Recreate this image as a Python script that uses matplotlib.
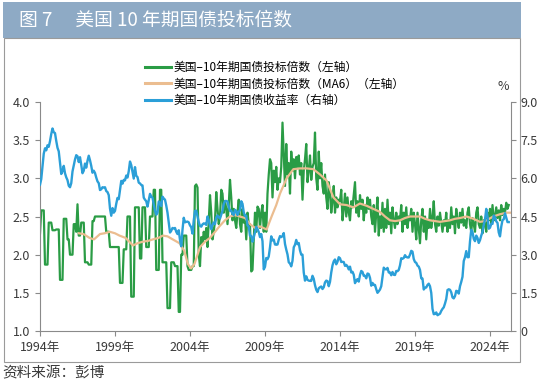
# 美国10年期国债投标倍数 vs 收益率

import numpy as np
import matplotlib
matplotlib.use("Agg")
import matplotlib.pyplot as plt
from matplotlib.patches import Rectangle

plt.rcParams['font.family'] = ['Noto Sans CJK SC', 'DejaVu Sans']

# Data (monthly, starting 1994-01)
bid_cover = [
    2.28, 2.58, 2.58, 2.58, 1.87, 1.87, 1.87, 2.42, 2.42, 2.42, 2.32, 2.32,  # 1994
    2.32, 2.33, 2.33, 2.33, 1.67, 1.67, 1.67, 2.47, 2.47, 2.47, 2.20, 2.20,  # 1995
    2.00, 2.00, 2.00, 2.40, 2.40, 2.30, 2.66, 2.25, 2.25, 2.42, 2.42, 2.42,  # 1996
    1.90, 1.90, 1.90, 1.87, 1.87, 1.87, 2.44, 2.44, 2.50, 2.50, 2.50, 2.50,  # 1997
    2.50, 2.50, 2.50, 2.50, 2.50, 2.30, 2.30, 2.30, 2.10, 2.10, 2.10, 2.10,  # 1998
    2.10, 2.10, 2.10, 2.10, 1.63, 1.63, 1.63, 2.07, 2.07, 2.07, 2.50, 2.50,  # 1999
    2.50, 1.45, 1.45, 1.45, 2.62, 2.62, 2.62, 2.62, 1.95, 1.95, 2.62, 2.62,  # 2000
    2.62, 2.10, 2.10, 2.10, 2.50, 2.50, 2.50, 2.85, 2.85, 1.80, 1.80, 1.80,  # 2001
    2.85, 2.85, 1.90, 1.90, 1.90, 1.90, 1.30, 1.30, 1.30, 1.90, 1.90, 1.90,  # 2002
    1.85, 1.85, 1.85, 1.25, 1.25, 2.00, 2.00, 2.25, 2.25, 2.25, 1.85, 1.80,  # 2003
    1.80, 1.80, 1.85, 1.85, 2.90, 2.92, 2.88, 2.00, 1.85, 2.23, 2.15, 2.30,  # 2004
    2.20, 2.35, 2.10, 2.45, 2.78, 2.55, 2.20, 2.30, 2.45, 2.82, 2.60, 2.40,  # 2005
    2.50, 2.85, 2.80, 2.55, 2.70, 2.60, 2.40, 2.65, 2.98, 2.75, 2.45, 2.60,  # 2006
    2.45, 2.35, 2.55, 2.72, 2.40, 2.30, 2.60, 2.42, 2.50, 2.20, 2.55, 2.40,  # 2007
    2.40, 1.78, 1.80, 2.20, 2.55, 2.30, 2.63, 2.60, 2.35, 2.55, 2.65, 2.30,  # 2008
    2.55, 2.30, 2.80, 3.05, 3.25, 3.20, 2.75, 3.10, 2.95, 3.15, 2.85, 3.00,  # 2009
    2.95, 3.15, 3.73, 3.30, 2.90, 3.45, 3.05, 3.20, 2.80, 3.35, 3.10, 3.25,  # 2010
    3.00, 3.28, 3.15, 3.30, 3.05, 3.20, 2.72, 3.10, 3.25, 3.45, 2.95, 3.10,  # 2011
    3.30, 2.98, 3.15, 3.20, 3.60, 3.00, 2.85, 3.35, 3.00, 3.20, 2.90, 2.80,  # 2012
    3.05, 2.75, 2.60, 2.95, 2.80, 2.55, 2.70, 2.90, 2.55, 2.75, 2.62, 2.72,  # 2013
    2.70, 2.85, 2.45, 2.60, 2.80, 2.50, 2.75, 2.55, 2.45, 2.70, 2.62, 2.78,  # 2014
    2.95, 2.55, 2.70, 2.50, 2.78, 2.60, 2.72, 2.45, 2.65, 2.55, 2.75, 2.60,  # 2015
    2.72, 2.50, 2.40, 2.65, 2.30, 2.55, 2.75, 2.25, 2.50, 2.35, 2.68, 2.30,  # 2016
    2.60, 2.35, 2.72, 2.40, 2.55, 2.28, 2.62, 2.45, 2.35, 2.55, 2.40, 2.50,  # 2017
    2.45, 2.65, 2.30, 2.55, 2.40, 2.62, 2.35, 2.50, 2.45, 2.60, 2.30, 2.55,  # 2018
    2.40, 2.20, 2.55, 2.35, 2.15, 2.45, 2.60, 2.30, 2.50, 2.20, 2.45, 2.35,  # 2019
    2.60, 2.35, 2.48, 2.70, 2.40, 2.30, 2.50, 2.38, 2.55, 2.42, 2.30, 2.45,  # 2020
    2.38, 2.55, 2.30, 2.45, 2.35, 2.62, 2.40, 2.50, 2.28, 2.60, 2.45, 2.35,  # 2021
    2.55, 2.42, 2.60, 2.38, 2.45, 2.35, 2.55, 2.62, 2.40, 2.30, 2.48, 2.40,  # 2022
    2.30, 2.55, 2.62, 2.40, 2.35, 2.50, 2.28, 2.45, 2.40, 2.30, 2.55, 2.45,  # 2023
    2.60, 2.40, 2.65, 2.45, 2.50, 2.62, 2.48, 2.58, 2.45, 2.65, 2.52, 2.60,  # 2024
    2.55, 2.68, 2.60, 2.65,                                                  # 2025
]

yield_10y = [
    5.75, 5.97, 6.48, 6.97, 7.18, 7.10, 7.30, 7.24, 7.46, 7.74, 7.96, 7.81,  # 1994
    7.78, 7.47, 7.20, 7.06, 6.63, 6.17, 6.28, 6.49, 6.20, 6.04, 5.93, 5.71,  # 1995
    5.65, 5.81, 6.27, 6.51, 6.74, 6.91, 6.87, 6.64, 6.83, 6.53, 6.20, 6.30,  # 1996
    6.58, 6.42, 6.69, 6.89, 6.71, 6.49, 6.22, 6.30, 6.21, 6.03, 5.88, 5.81,  # 1997
    5.54, 5.57, 5.65, 5.64, 5.65, 5.50, 5.46, 5.34, 4.81, 4.53, 4.83, 4.65,  # 1998
    4.72, 5.00, 5.23, 5.18, 5.54, 5.90, 5.79, 5.94, 5.92, 6.11, 6.03, 6.28,  # 1999
    6.66, 6.52, 6.26, 5.99, 6.44, 6.10, 6.05, 5.83, 5.80, 5.74, 5.72, 5.24,  # 2000
    5.16, 5.10, 4.89, 5.14, 5.39, 5.28, 5.24, 4.97, 4.73, 4.57, 4.65, 5.09,  # 2001
    5.04, 4.91, 5.28, 5.21, 5.16, 4.93, 4.65, 4.26, 3.87, 3.94, 4.05, 4.03,  # 2002
    4.05, 3.90, 3.81, 3.96, 3.57, 3.33, 3.98, 4.45, 4.27, 4.29, 4.30, 4.27,  # 2003
    4.15, 4.08, 3.83, 4.35, 4.72, 4.73, 4.50, 4.28, 4.13, 4.10, 4.19, 4.23,  # 2004
    4.22, 4.17, 4.50, 4.34, 4.14, 4.00, 4.18, 4.26, 4.20, 4.46, 4.54, 4.47,  # 2005
    4.42, 4.57, 4.72, 4.99, 5.11, 5.11, 5.09, 4.88, 4.72, 4.73, 4.60, 4.56,  # 2006
    4.76, 4.72, 4.56, 4.69, 4.75, 5.10, 5.00, 4.67, 4.52, 4.53, 4.15, 4.10,  # 2007
    3.74, 3.74, 3.51, 3.68, 3.88, 4.10, 4.01, 3.89, 3.69, 3.81, 3.53, 2.42,  # 2008
    2.52, 2.87, 2.82, 2.93, 3.29, 3.72, 3.56, 3.59, 3.40, 3.39, 3.40, 3.59,  # 2009
    3.73, 3.69, 3.73, 3.85, 3.42, 3.20, 3.01, 2.70, 2.65, 2.54, 2.76, 3.29,  # 2010
    3.39, 3.58, 3.41, 3.46, 3.17, 3.00, 3.00, 2.30, 1.98, 2.15, 2.01, 1.98,  # 2011
    1.97, 1.97, 2.17, 2.05, 1.80, 1.62, 1.53, 1.68, 1.72, 1.75, 1.65, 1.72,  # 2012
    1.91, 1.98, 1.96, 1.76, 1.93, 2.30, 2.58, 2.74, 2.81, 2.62, 2.72, 2.90,  # 2013
    2.86, 2.71, 2.72, 2.71, 2.56, 2.60, 2.54, 2.42, 2.53, 2.30, 2.33, 2.21,  # 2014
    1.88, 1.98, 2.04, 1.94, 2.20, 2.36, 2.32, 2.17, 2.17, 2.07, 2.26, 2.24,  # 2015
    2.09, 1.78, 1.89, 1.81, 1.81, 1.64, 1.50, 1.56, 1.63, 1.76, 2.14, 2.49,  # 2016
    2.43, 2.42, 2.48, 2.30, 2.30, 2.19, 2.32, 2.21, 2.20, 2.36, 2.35, 2.40,  # 2017
    2.58, 2.86, 2.84, 2.87, 2.98, 2.91, 2.89, 2.89, 3.00, 3.15, 3.12, 2.83,  # 2018
    2.71, 2.68, 2.57, 2.53, 2.40, 2.07, 2.06, 1.63, 1.70, 1.71, 1.81, 1.86,  # 2019
    1.76, 1.50, 0.87, 0.66, 0.67, 0.73, 0.62, 0.65, 0.68, 0.79, 0.87, 0.93,  # 2020
    1.08, 1.26, 1.61, 1.64, 1.62, 1.52, 1.32, 1.28, 1.37, 1.58, 1.56, 1.47,  # 2021
    1.76, 1.93, 2.13, 2.75, 2.90, 3.14, 2.90, 2.90, 3.52, 3.98, 3.89, 3.62,  # 2022
    3.53, 3.75, 3.66, 3.46, 3.57, 3.75, 3.90, 4.17, 4.38, 4.80, 4.50, 4.02,  # 2023
    4.06, 4.21, 4.21, 4.54, 4.48, 4.31, 4.25, 3.87, 3.72, 4.10, 4.36, 4.39,  # 2024
    4.63, 4.45, 4.28, 4.28,                                                  # 2025
]

# MA6 line (year, value)
ma6_year = [1996.6, 1996.9, 1997.3, 1997.6, 1998.0, 1998.3, 1998.65, 1999.0, 1999.3,
            1999.7, 2000.2, 2000.5, 2000.86, 2001.2, 2001.52, 2001.9, 2002.19, 2002.5,
            2002.85, 2003.3, 2003.62, 2003.85, 2004.07, 2004.3, 2004.67, 2005.0, 2005.33,
            2005.67, 2006.0, 2006.33, 2006.67, 2007.0, 2007.33, 2007.67, 2008.0, 2008.33,
            2008.67, 2009.11, 2009.44, 2009.75, 2010.0, 2010.44, 2010.89, 2011.33, 2011.78,
            2012.22, 2012.67, 2013.11, 2013.56, 2014.0, 2014.44, 2014.89, 2015.33, 2015.78,
            2016.22, 2016.67, 2017.0, 2017.33, 2017.67, 2018.0, 2018.33, 2018.67, 2019.0,
            2019.33, 2019.67, 2020.0, 2020.33, 2020.67, 2021.0, 2021.33, 2021.67, 2022.0,
            2022.44, 2022.89, 2023.33, 2023.67, 2024.22, 2024.67, 2025.11, 2025.33]
ma6_val = [2.28, 2.27, 2.22, 2.20, 2.27, 2.28, 2.30, 2.28, 2.25,
           2.22, 2.12, 2.15, 2.17, 2.18, 2.20, 2.22, 2.25, 2.24,
           2.20, 2.15, 2.05, 1.88, 1.82, 1.88, 2.10, 2.17, 2.22,
           2.30, 2.38, 2.45, 2.50, 2.52, 2.50, 2.48, 2.40, 2.35,
           2.37, 2.33, 2.50, 2.65, 2.80, 3.00, 3.12, 3.13, 3.13,
           3.12, 3.05, 2.97, 2.75, 2.66, 2.65, 2.62, 2.67, 2.64,
           2.60, 2.56, 2.50, 2.45, 2.44, 2.45, 2.48, 2.50, 2.50,
           2.50, 2.47, 2.45, 2.44, 2.43, 2.44, 2.45, 2.47, 2.48,
           2.50, 2.47, 2.43, 2.44, 2.50, 2.53, 2.55, 2.55]

x_ticks = [1994, 1999, 2004, 2009, 2014, 2019, 2024]
x_labels = [str(y) + '年' for y in x_ticks]
left_ticks = [1.0, 1.5, 2.0, 2.5, 3.0, 3.5, 4.0]
right_ticks = [0, 1.5, 3.0, 4.5, 6.0, 7.5, 9.0]
right_labels = ['0', '1.5', '3.0', '4.5', '6.0', '7.5', '9.0']

months = 1994 + np.arange(len(bid_cover)) / 12
months_y = 1994 + np.arange(len(yield_10y)) / 12

green = '#2a9c45'
tan = '#ebbd90'
blue = '#2b9fd8'
axis_col = '#8a8a8a'
text_col = '#3a3a3a'

fig = plt.figure(figsize=(5.5, 3.84), dpi=100)
W, H = 550, 384

# title bar and panel frame (behind the axes)
fig.patches.append(Rectangle((3 / W, 1 - 38 / H), 518 / W, 36 / H,
                             transform=fig.transFigure, facecolor='#8eaac5',
                             edgecolor='none', zorder=-5))
fig.patches.append(Rectangle((4 / W, 1 - 362 / H), 516 / W, 324 / H,
                             transform=fig.transFigure, facecolor='none',
                             edgecolor='#9a9a9a', lw=0.8, zorder=-5))
fig.text(19 / W, 1 - 20 / H, '图 7\u3000 美国 10 年期国债投标倍数', color='white',
         fontsize=13.5, va='center', ha='left')
fig.text(2 / W, 1 - 373 / H, '资料来源：彭博', color=text_col,
         fontsize=10.5, va='center', ha='left')

ax = fig.add_axes([40 / W, 1 - 331 / H, 471 / W, 229 / H])
ax.patch.set_alpha(0)
l1, = ax.plot(months, bid_cover, color=green, lw=1.6,
              label='美国–10年期国债投标倍数（左轴）')
l2, = ax.plot(ma6_year, ma6_val, color=tan, lw=1.6,
              label='美国–10年期国债投标倍数（MA6）（左轴）')
ax.set_xlim(1994, 2025.4)
ax.set_ylim(1.0, 4.0)
ax.set_xticks(x_ticks)
ax.set_xticklabels(x_labels)
ax.set_yticks(left_ticks)
ax.set_yticklabels(['%.1f' % v for v in left_ticks])

ax2 = ax.twinx()
ax2.patch.set_alpha(0)
l3, = ax2.plot(months_y, yield_10y, color=blue, lw=1.7,
               label='美国–10年期国债收益率（右轴）')
ax2.set_ylim(0, 9)
ax2.set_yticks(right_ticks)
ax2.set_yticklabels(right_labels)

for a in (ax, ax2):
    a.spines['top'].set_visible(False)
    for s in a.spines.values():
        s.set_color(axis_col)
        s.set_linewidth(0.8)
    a.tick_params(colors=axis_col, labelcolor=text_col, labelsize=9,
                  length=3.5, width=0.8, direction='out')
ax2.spines['left'].set_visible(False)
ax2.spines['bottom'].set_visible(False)
ax.spines['right'].set_visible(False)
ax.tick_params(axis='x', pad=4)

fig.text(503 / W, 1 - 87 / H, '%', color=text_col, fontsize=9,
         va='center', ha='center')

fig.legend(handles=[l1, l2, l3], loc='upper left',
           bbox_to_anchor=(145 / W, 1 - 61 / H), frameon=False,
           fontsize=8.5, handlelength=2.2, handletextpad=0.2,
           labelspacing=0.3, borderaxespad=0, borderpad=0)
for line in fig.legends[0].get_lines():
    line.set_linewidth(2.2)

fig.savefig('out.png', dpi=100)
